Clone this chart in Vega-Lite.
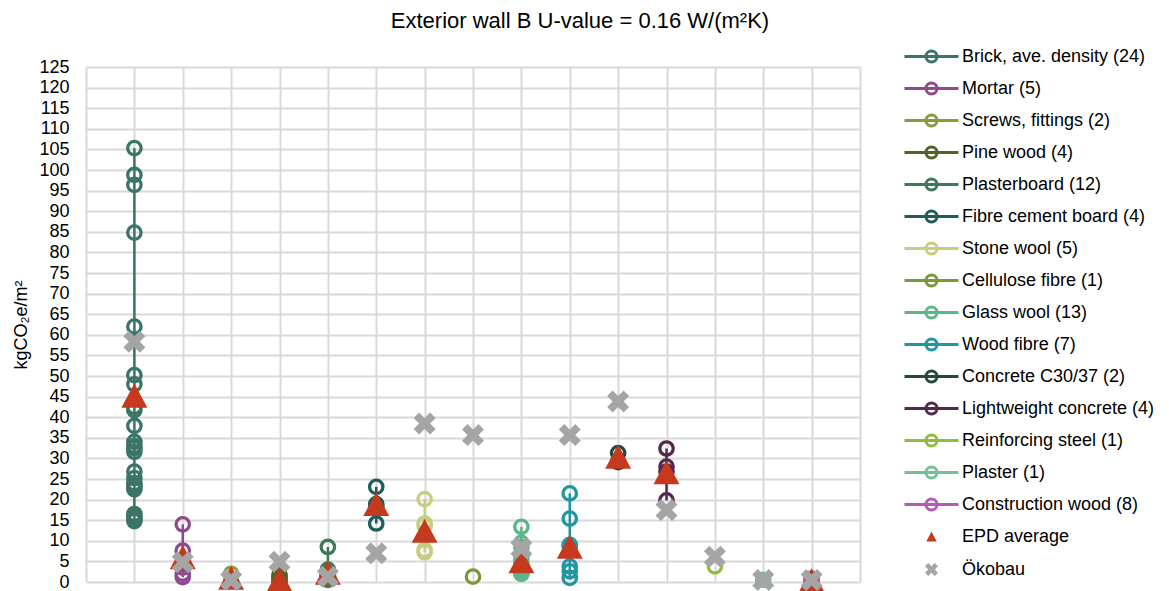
{
  "$schema": "https://vega.github.io/schema/vega-lite/v6.json",
  "autosize": {"type": "none"},
  "width": 774,
  "height": 515,
  "padding": {"left": 86, "top": 67, "right": 309, "bottom": 9},
  "title": {"text": "Exterior wall B U-value = 0.16 W/(m²K)", "fontSize": 22, "font": "Liberation Sans", "fontWeight": "normal", "color": "#000", "anchor": "middle", "dx": 107, "offset": 12},
  "config": {"view": {"stroke": null}, "font": "Liberation Sans"},
  "data": {"values": [
    {"s": "Brick, ave. density (24)", "i": 1, "v": 105.3}, {"s": "Brick, ave. density (24)", "i": 1, "v": 98.8}, {"s": "Brick, ave. density (24)", "i": 1, "v": 96.4}, {"s": "Brick, ave. density (24)", "i": 1, "v": 84.8},
    {"s": "Brick, ave. density (24)", "i": 1, "v": 62}, {"s": "Brick, ave. density (24)", "i": 1, "v": 50.2}, {"s": "Brick, ave. density (24)", "i": 1, "v": 48}, {"s": "Brick, ave. density (24)", "i": 1, "v": 42.5},
    {"s": "Brick, ave. density (24)", "i": 1, "v": 41.7}, {"s": "Brick, ave. density (24)", "i": 1, "v": 37.9}, {"s": "Brick, ave. density (24)", "i": 1, "v": 34}, {"s": "Brick, ave. density (24)", "i": 1, "v": 33},
    {"s": "Brick, ave. density (24)", "i": 1, "v": 32.5}, {"s": "Brick, ave. density (24)", "i": 1, "v": 31.6}, {"s": "Brick, ave. density (24)", "i": 1, "v": 26.8}, {"s": "Brick, ave. density (24)", "i": 1, "v": 25.2},
    {"s": "Brick, ave. density (24)", "i": 1, "v": 24}, {"s": "Brick, ave. density (24)", "i": 1, "v": 23.5}, {"s": "Brick, ave. density (24)", "i": 1, "v": 23}, {"s": "Brick, ave. density (24)", "i": 1, "v": 22.5},
    {"s": "Brick, ave. density (24)", "i": 1, "v": 16.5}, {"s": "Brick, ave. density (24)", "i": 1, "v": 15.8}, {"s": "Brick, ave. density (24)", "i": 1, "v": 15.3}, {"s": "Brick, ave. density (24)", "i": 1, "v": 14.8},
    {"s": "Mortar (5)", "i": 2, "v": 14}, {"s": "Mortar (5)", "i": 2, "v": 7.6}, {"s": "Mortar (5)", "i": 2, "v": 3.5}, {"s": "Mortar (5)", "i": 2, "v": 2}, {"s": "Mortar (5)", "i": 2, "v": 1.2},
    {"s": "Screws, fittings (2)", "i": 3, "v": 2.0}, {"s": "Screws, fittings (2)", "i": 3, "v": 0.3},
    {"s": "Pine wood (4)", "i": 4, "v": 1.8}, {"s": "Pine wood (4)", "i": 4, "v": 1.2}, {"s": "Pine wood (4)", "i": 4, "v": 0.6}, {"s": "Pine wood (4)", "i": 4, "v": 0.3},
    {"s": "Plasterboard (12)", "i": 5, "v": 8.5}, {"s": "Plasterboard (12)", "i": 5, "v": 3.0}, {"s": "Plasterboard (12)", "i": 5, "v": 2.8}, {"s": "Plasterboard (12)", "i": 5, "v": 2.5},
    {"s": "Plasterboard (12)", "i": 5, "v": 2.2}, {"s": "Plasterboard (12)", "i": 5, "v": 2.0}, {"s": "Plasterboard (12)", "i": 5, "v": 1.8}, {"s": "Plasterboard (12)", "i": 5, "v": 1.5},
    {"s": "Plasterboard (12)", "i": 5, "v": 1.2}, {"s": "Plasterboard (12)", "i": 5, "v": 1.0}, {"s": "Plasterboard (12)", "i": 5, "v": 0.8}, {"s": "Plasterboard (12)", "i": 5, "v": 0.5},
    {"s": "Fibre cement board (4)", "i": 6, "v": 23.1}, {"s": "Fibre cement board (4)", "i": 6, "v": 18.9}, {"s": "Fibre cement board (4)", "i": 6, "v": 18.4}, {"s": "Fibre cement board (4)", "i": 6, "v": 14.2},
    {"s": "Stone wool (5)", "i": 7, "v": 20.1}, {"s": "Stone wool (5)", "i": 7, "v": 14.2}, {"s": "Stone wool (5)", "i": 7, "v": 13.6}, {"s": "Stone wool (5)", "i": 7, "v": 7.8}, {"s": "Stone wool (5)", "i": 7, "v": 7.2},
    {"s": "Cellulose fibre (1)", "i": 8, "v": 1.3},
    {"s": "Glass wool (13)", "i": 9, "v": 13.4}, {"s": "Glass wool (13)", "i": 9, "v": 9.5}, {"s": "Glass wool (13)", "i": 9, "v": 8.5}, {"s": "Glass wool (13)", "i": 9, "v": 6.0},
    {"s": "Glass wool (13)", "i": 9, "v": 5.0}, {"s": "Glass wool (13)", "i": 9, "v": 4.0}, {"s": "Glass wool (13)", "i": 9, "v": 3.5}, {"s": "Glass wool (13)", "i": 9, "v": 3.0},
    {"s": "Glass wool (13)", "i": 9, "v": 2.8}, {"s": "Glass wool (13)", "i": 9, "v": 2.5}, {"s": "Glass wool (13)", "i": 9, "v": 2.3}, {"s": "Glass wool (13)", "i": 9, "v": 2.1}, {"s": "Glass wool (13)", "i": 9, "v": 2.0},
    {"s": "Wood fibre (7)", "i": 10, "v": 21.5}, {"s": "Wood fibre (7)", "i": 10, "v": 15.4}, {"s": "Wood fibre (7)", "i": 10, "v": 9.0}, {"s": "Wood fibre (7)", "i": 10, "v": 8.6},
    {"s": "Wood fibre (7)", "i": 10, "v": 3.8}, {"s": "Wood fibre (7)", "i": 10, "v": 2.6}, {"s": "Wood fibre (7)", "i": 10, "v": 1.0},
    {"s": "Concrete C30/37 (2)", "i": 11, "v": 31.3}, {"s": "Concrete C30/37 (2)", "i": 11, "v": 29.1},
    {"s": "Lightweight concrete (4)", "i": 12, "v": 32.4}, {"s": "Lightweight concrete (4)", "i": 12, "v": 28.0}, {"s": "Lightweight concrete (4)", "i": 12, "v": 26.8}, {"s": "Lightweight concrete (4)", "i": 12, "v": 19.8},
    {"s": "Reinforcing steel (1)", "i": 13, "v": 3.8},
    {"s": "Plaster (1)", "i": 14, "v": 0.5},
    {"s": "Construction wood (8)", "i": 15, "v": 0.8}, {"s": "Construction wood (8)", "i": 15, "v": 0.6}, {"s": "Construction wood (8)", "i": 15, "v": 0.5}, {"s": "Construction wood (8)", "i": 15, "v": 0.4},
    {"s": "Construction wood (8)", "i": 15, "v": 0.3}, {"s": "Construction wood (8)", "i": 15, "v": 0.3}, {"s": "Construction wood (8)", "i": 15, "v": 0.2}, {"s": "Construction wood (8)", "i": 15, "v": 0.1},
    {"s": "EPD average", "i": 1, "v": 45}, {"s": "EPD average", "i": 2, "v": 5.8}, {"s": "EPD average", "i": 3, "v": 0.8}, {"s": "EPD average", "i": 4, "v": 0.3},
    {"s": "EPD average", "i": 5, "v": 2.0}, {"s": "EPD average", "i": 6, "v": 18.7}, {"s": "EPD average", "i": 7, "v": 12.2}, {"s": "EPD average", "i": 9, "v": 4.8},
    {"s": "EPD average", "i": 10, "v": 8.3}, {"s": "EPD average", "i": 11, "v": 30.2}, {"s": "EPD average", "i": 12, "v": 26.4}, {"s": "EPD average", "i": 15, "v": 0.2},
    {"s": "Ökobau", "i": 1, "v": 58.3}, {"s": "Ökobau", "i": 2, "v": 4.8}, {"s": "Ökobau", "i": 3, "v": 0.5}, {"s": "Ökobau", "i": 4, "v": 4.9}, {"s": "Ökobau", "i": 5, "v": 1.3},
    {"s": "Ökobau", "i": 6, "v": 7.0}, {"s": "Ökobau", "i": 7, "v": 38.5}, {"s": "Ökobau", "i": 8, "v": 35.7}, {"s": "Ökobau", "i": 9, "v": 8.2}, {"s": "Ökobau", "i": 10, "v": 35.7},
    {"s": "Ökobau", "i": 11, "v": 43.8}, {"s": "Ökobau", "i": 12, "v": 17.5}, {"s": "Ökobau", "i": 13, "v": 6.1}, {"s": "Ökobau", "i": 14, "v": 0.5}, {"s": "Ökobau", "i": 15, "v": 0.5}
  ]},
  "encoding": {
    "x": {"field": "i", "type": "quantitative", "scale": {"domain": [0, 16], "nice": false, "zero": false},
      "axis": {"values": [0,1,2,3,4,5,6,7,8,9,10,11,12,13,14,15,16], "labels": false, "ticks": false, "domain": false, "grid": true, "gridColor": "#d9d9d9", "gridWidth": 2, "title": null}},
    "y": {"field": "v", "type": "quantitative", "scale": {"domain": [0, 125], "nice": false},
      "axis": {"values": [0,5,10,15,20,25,30,35,40,45,50,55,60,65,70,75,80,85,90,95,100,105,110,115,120,125], "ticks": false, "tickSize": 0, "domain": false, "grid": true, "gridColor": "#d9d9d9", "gridWidth": 2,
        "labelFontSize": 18, "labelFont": "Liberation Sans", "labelColor": "#000", "labelPadding": 17,
        "title": "kgCO₂e/m²", "titleFontSize": 18, "titleFont": "Liberation Sans", "titleFontWeight": "normal", "titleColor": "#000", "titlePadding": 8}}
  },
  "layer": [
    {
      "transform": [{"filter": "datum.s !== 'EPD average' && datum.s !== 'Ökobau'"}],
      "mark": {"type": "line", "strokeWidth": 2.5},
      "encoding": {
        "stroke": {"field": "s", "type": "nominal",
          "scale": {
            "domain": ["Brick, ave. density (24)", "Mortar (5)", "Screws, fittings (2)", "Pine wood (4)", "Plasterboard (12)", "Fibre cement board (4)", "Stone wool (5)", "Cellulose fibre (1)", "Glass wool (13)", "Wood fibre (7)", "Concrete C30/37 (2)", "Lightweight concrete (4)", "Reinforcing steel (1)", "Plaster (1)", "Construction wood (8)", "EPD average", "Ökobau"],
            "range": ["#3b7566", "#8e4a8c", "#8c9a3c", "#4f6426", "#3e7a5a", "#1f5c5c", "#c7cf7f", "#7a9a3a", "#5db58a", "#2196a0", "#244a40", "#52284f", "#8fbe3f", "#73c197", "#b45cb4", "transparent", "transparent"]
          },
          "legend": {
            "title": null, "orient": "none", "legendX": 834, "legendY": -22, "padding": 0,
            "symbolSize": 400, "symbolStrokeWidth": 3, "labelFontSize": 18, "labelFont": "Liberation Sans", "labelColor": "#000",
            "labelOffset": 19, "rowPadding": 9, "labelLimit": 300,
            "encoding": {"symbols": {
              "fill": {"value": {"expr": "datum.value === 'EPD average' ? '#c5391f' : datum.value === 'Ökobau' ? '#a5a5a5' : 'transparent'"}},
              "shape": {"value": {"expr": "datum.value === 'EPD average' ? 'M0,-0.5L0.52,0.5L-0.52,0.5Z' : datum.value === 'Ökobau' ? 'M-0.65,-0.33L-0.33,-0.65L0,-0.33L0.33,-0.65L0.65,-0.33L0.33,0L0.65,0.33L0.33,0.65L0,0.33L-0.33,0.65L-0.65,0.33L-0.33,0Z' : 'M-2.7,0L2.7,0M-0.55,0A0.55,0.55 0 1,1 0.55,0A0.55,0.55 0 1,1 -0.55,0Z'"}}
            }}
          }
        },
        "order": {"field": "v", "type": "quantitative"}
      }
    },
    {
      "transform": [{"filter": "datum.s !== 'EPD average' && datum.s !== 'Ökobau'"}],
      "mark": {"type": "point", "shape": "circle", "filled": false, "size": 180, "strokeWidth": 3.3, "opacity": 1},
      "encoding": {"stroke": {"field": "s", "type": "nominal", "legend": null}}
    },
    {
      "transform": [{"filter": "datum.s === 'EPD average'"}],
      "mark": {"type": "point", "shape": "M0,-1L1,0.85L-1,0.85Z", "filled": true, "fill": "#c5391f", "size": 676, "opacity": 1, "strokeWidth": 0}
    },
    {
      "transform": [{"filter": "datum.s === 'Ökobau'"}],
      "mark": {"type": "point", "shape": "M-1,-0.5L-0.5,-1L0,-0.5L0.5,-1L1,-0.5L0.5,0L1,0.5L0.5,1L0,0.5L-0.5,1L-1,0.5L-0.5,0Z", "filled": true, "fill": "#a5a5a5", "size": 484, "opacity": 1, "strokeWidth": 0}
    }
  ]
}
